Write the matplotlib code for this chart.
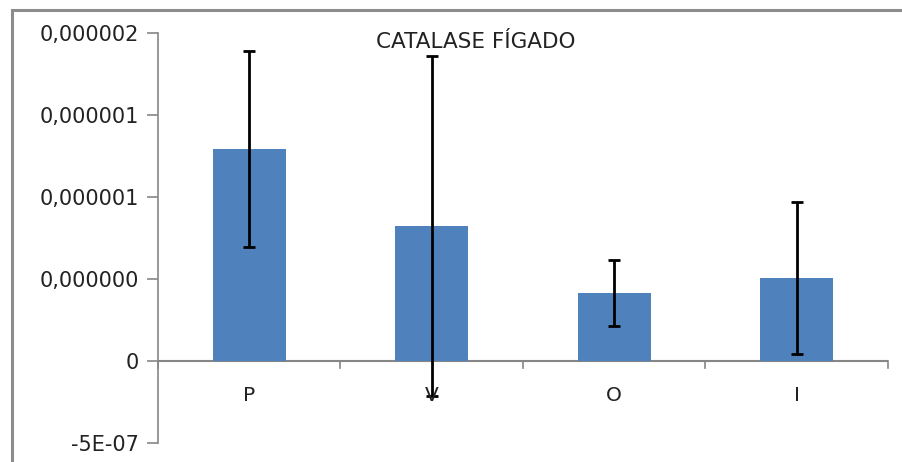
import numpy as np
import matplotlib.pyplot as plt
from matplotlib.patches import Rectangle

# data
categories = ['P', 'V', 'O', 'I']
values = [1.293e-6, 0.823e-6, 0.415e-6, 0.506e-6]
errors = [0.600e-6, 1.037e-6, 0.202e-6, 0.462e-6]
tick_vals = [-5e-7, 0, 5e-7, 1e-6, 1.5e-6, 2e-6]
tick_labels = ['-5E-07', '0', '0,000000', '0,000001', '0,000001', '0,000002']

fig = plt.figure(figsize=(9.03, 4.62), dpi=100)
ax = fig.add_axes([158/903, 19/462, 730/903, 410/462])

# outer chart border (only top and left show in the crop)
fig.patches.append(Rectangle((12/903, -0.1), 1.2, (452/462) + 0.1, transform=fig.transFigure,
                             fill=False, edgecolor='#8c8c8c', linewidth=2.2))

x = np.arange(len(categories))
ax.bar(x, values, width=0.4, color='#4F81BD', zorder=2)
ax.errorbar(x, values, yerr=errors, fmt='none', ecolor='black', elinewidth=2,
            capsize=4, capthick=2, zorder=3)

ax.set_xlim(-0.5, 3.5)
ax.set_ylim(-5e-7, 2e-6)
ax.set_yticks(tick_vals)
ax.set_yticklabels(tick_labels)
ax.set_xticks([])

gray = '#868686'
for s in ['top', 'right', 'bottom']:
    ax.spines[s].set_visible(False)
ax.spines['left'].set_color(gray)
ax.spines['left'].set_linewidth(1.2)
ax.tick_params(axis='y', direction='out', length=8, width=1.2, color=gray,
               labelsize=15, labelcolor='#222222', pad=6)

# category axis at zero with boundary ticks
ax.axhline(0, color=gray, linewidth=1.5, zorder=1)
for b in np.arange(-0.5, 4.0, 1.0):
    ax.plot([b, b], [0, -0.42e-7], color=gray, linewidth=1.2, clip_on=False, zorder=1)
for xi, lab in zip(x, categories):
    ax.text(xi, -2.1e-7, lab, ha='center', va='center', fontsize=14.5, color='#222222')

fig.text(476/903, 1 - 42/462, 'CATALASE FÍGADO', ha='center', va='center',
         fontsize=15.5, color='#222222')

fig.savefig('out.png', dpi=100)
